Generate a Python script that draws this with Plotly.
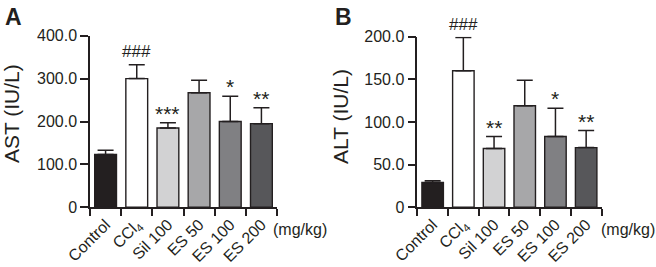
import plotly.graph_objects as go

categories = ["Control", "CCl<sub>4</sub>", "Sil 100", "ES 50", "ES 100", "ES 200"]
ast_mean = [123, 300, 185, 267, 200, 195]
ast_upper = [133, 332, 197, 296, 259, 232]
alt_mean = [29, 160, 69, 119, 83, 70]
alt_upper = [31, 199, 83, 149, 116, 90]
ast_sig = ["", "###", "***", "", "*", "**"]
alt_sig = ["", "###", "**", "", "*", "**"]
bar_colors = ["#231f20", "#ffffff", "#d2d2d3", "#a7a7a9", "#808083", "#57575a"]
ast_ticks = [0, 100, 200, 300, 400]
ast_ticktext = ["0", "100.0", "200.0", "300.0", "400.0"]
alt_ticks = [0, 50, 100, 150, 200]
alt_ticktext = ["0", "50.0", "100.0", "150.0", "200.0"]

W, H = 656, 267
INK = "#231f20"
FONT = "Liberation Sans, Arial, sans-serif"
xpos = list(range(len(categories)))

fig = go.Figure()

def add_panel(mean, upper, xa, ya):
    fig.add_trace(go.Bar(
        x=xpos, y=mean, width=0.7,
        marker=dict(color=bar_colors, line=dict(color=INK, width=1.4)),
        error_y=dict(type="data", symmetric=False,
                     array=[u - m for u, m in zip(upper, mean)],
                     arrayminus=[0] * len(mean),
                     color=INK, thickness=1.5, width=8),
        xaxis=xa, yaxis=ya, showlegend=False, hoverinfo="skip"))

add_panel(ast_mean, ast_upper, "x", "y")
add_panel(alt_mean, alt_upper, "x2", "y2")

def px_x(p):
    return p / W

def px_y(p):
    return 1 - p / H

xcommon = dict(range=[-0.5, 5.5], tickmode="array", tickvals=xpos, ticktext=categories,
               ticks="", tickangle=-45, showline=True, linecolor=INK, linewidth=1.5,
               showgrid=False, zeroline=False, fixedrange=True, automargin=False,
               tickfont=dict(size=16, color=INK, family=FONT),
               minor=dict(tickmode="array", tickvals=[i - 0.5 for i in range(len(categories) + 1)],
                          ticks="outside", ticklen=7, tickwidth=1.5, tickcolor=INK, showgrid=False))
ycommon = dict(ticks="outside", ticklen=8, tickwidth=1.5, tickcolor=INK, automargin=False,
               showline=True, linecolor=INK, linewidth=1.5, showgrid=False, zeroline=False,
               tickfont=dict(size=16, color=INK, family=FONT), tickmode="array", fixedrange=True)

fig.update_layout(
    template="none",
    width=W, height=H, margin=dict(l=0, r=0, t=0, b=0, pad=0),
    paper_bgcolor="white", plot_bgcolor="white",
    font=dict(family=FONT, color=INK),
    bargap=0.3,
    xaxis=dict(domain=[px_x(90), px_x(277)], anchor="y", **xcommon),
    yaxis=dict(domain=[px_y(207.3), px_y(35.7)], anchor="x", range=[0, 400],
               tickvals=ast_ticks, ticktext=ast_ticktext, **ycommon),
    xaxis2=dict(domain=[px_x(417.3), px_x(601.5)], anchor="y2", **xcommon),
    yaxis2=dict(domain=[px_y(207.3), px_y(36.7)], anchor="x2", range=[0, 200],
                tickvals=alt_ticks, ticktext=alt_ticktext, **ycommon),
)

ann = []
def add_sig(sig, upper, xref, yref):
    for i, s in enumerate(sig):
        if not s:
            continue
        is_hash = s.startswith("#")
        ann.append(dict(x=i, y=upper[i], xref=xref, yref=yref, text=s, showarrow=False,
                        yanchor="bottom", yshift=2 if is_hash else -4,
                        font=dict(size=17 if is_hash else 21, color=INK, family=FONT)))

add_sig(ast_sig, ast_upper, "x", "y")
add_sig(alt_sig, alt_upper, "x2", "y2")

ann += [
    dict(x=px_x(3), y=px_y(2), xref="paper", yref="paper", text="<b>A</b>", showarrow=False,
         xanchor="left", yanchor="top", font=dict(size=23, color=INK, family=FONT)),
    dict(x=px_x(333), y=px_y(2), xref="paper", yref="paper", text="<b>B</b>", showarrow=False,
         xanchor="left", yanchor="top", font=dict(size=23, color=INK, family=FONT)),
    dict(x=px_x(12), y=px_y(114), xref="paper", yref="paper", text="AST (IU/L)", showarrow=False,
         textangle=-90, xanchor="center", yanchor="middle", font=dict(size=21, color=INK, family=FONT)),
    dict(x=px_x(341), y=px_y(117), xref="paper", yref="paper", text="ALT (IU/L)", showarrow=False,
         textangle=-90, xanchor="center", yanchor="middle", font=dict(size=21, color=INK, family=FONT)),
    dict(x=px_x(271), y=px_y(229), xref="paper", yref="paper", text="(mg/kg)", showarrow=False,
         xanchor="left", yanchor="middle", font=dict(size=16, color=INK, family=FONT)),
    dict(x=px_x(599), y=px_y(229), xref="paper", yref="paper", text="(mg/kg)", showarrow=False,
         xanchor="left", yanchor="middle", font=dict(size=16, color=INK, family=FONT)),
]
fig.update_layout(annotations=ann)

fig.write_html("out.html", config={"displayModeBar": False},
               post_script="document.body.style.margin='0';document.body.style.overflow='hidden';")
